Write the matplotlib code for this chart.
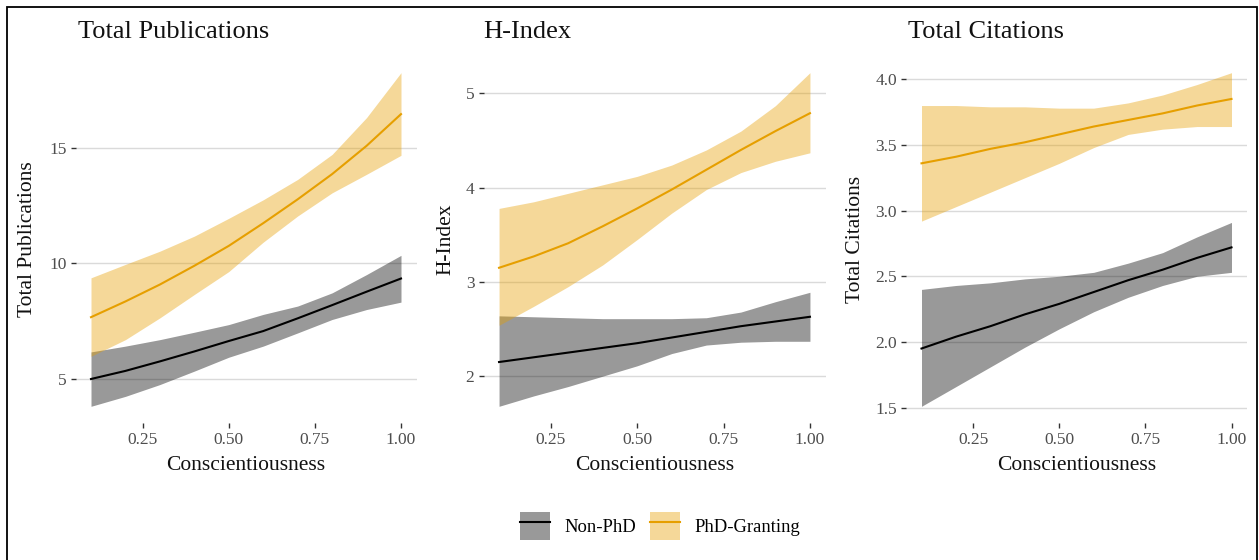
import matplotlib
matplotlib.use("Agg")
import matplotlib.pyplot as plt
from matplotlib.patches import Patch, Rectangle
from matplotlib.lines import Line2D
from matplotlib.ticker import FixedLocator, FormatStrFormatter

plt.rcParams['font.family'] = ['Liberation Serif', 'DejaVu Serif']

# ---------------- data ----------------
consc = [0.1, 0.2, 0.3, 0.4, 0.5, 0.6, 0.7, 0.8, 0.9, 1.0]

groups = ["Non-PhD", "PhD-Granting"]

# Total Publications
pub_non_fit = [5.01, 5.36, 5.77, 6.20, 6.65, 7.08, 7.63, 8.20, 8.78, 9.35]
pub_non_lo = [3.83, 4.26, 4.77, 5.35, 5.95, 6.43, 7.00, 7.58, 8.01, 8.33]
pub_non_hi = [6.18, 6.43, 6.71, 7.03, 7.36, 7.80, 8.16, 8.73, 9.52, 10.35]
pub_phd_fit = [7.68, 8.36, 9.09, 9.90, 10.76, 11.74, 12.77, 13.86, 15.08, 16.45]
pub_phd_lo = [5.99, 6.71, 7.65, 8.66, 9.65, 10.92, 12.05, 13.05, 13.85, 14.67]
pub_phd_hi = [9.38, 9.96, 10.53, 11.18, 11.95, 12.75, 13.63, 14.71, 16.30, 18.24]

# H-Index
h_non_fit = [2.15, 2.20, 2.25, 2.30, 2.35, 2.41, 2.47, 2.53, 2.58, 2.63]
h_non_lo = [1.68, 1.79, 1.89, 2.00, 2.11, 2.24, 2.33, 2.36, 2.37, 2.37]
h_non_hi = [2.64, 2.63, 2.62, 2.61, 2.61, 2.61, 2.62, 2.68, 2.79, 2.89]
h_phd_fit = [3.15, 3.27, 3.41, 3.59, 3.78, 3.98, 4.19, 4.40, 4.60, 4.79]
h_phd_lo = [2.54, 2.74, 2.95, 3.18, 3.45, 3.73, 3.98, 4.16, 4.28, 4.37]
h_phd_hi = [3.78, 3.85, 3.94, 4.03, 4.12, 4.24, 4.40, 4.60, 4.87, 5.22]

# Total Citations
cit_non_fit = [1.95, 2.04, 2.12, 2.21, 2.29, 2.38, 2.47, 2.55, 2.64, 2.72]
cit_non_lo = [1.51, 1.66, 1.81, 1.96, 2.10, 2.23, 2.34, 2.43, 2.50, 2.53]
cit_non_hi = [2.40, 2.43, 2.45, 2.48, 2.50, 2.53, 2.60, 2.68, 2.80, 2.91]
cit_phd_fit = [3.36, 3.41, 3.47, 3.52, 3.58, 3.64, 3.69, 3.74, 3.80, 3.85]
cit_phd_lo = [2.92, 3.03, 3.14, 3.25, 3.36, 3.48, 3.58, 3.62, 3.64, 3.64]
cit_phd_hi = [3.80, 3.80, 3.79, 3.79, 3.78, 3.78, 3.82, 3.88, 3.96, 4.05]

x_ticks = [0.25, 0.50, 0.75, 1.00]
pub_yticks = [5, 10, 15]
h_yticks = [2, 3, 4, 5]
cit_yticks = [1.5, 2.0, 2.5, 3.0, 3.5, 4.0]

titles = ["Total Publications", "H-Index", "Total Citations"]
x_label = "Conscientiousness"

# ---------------- styling ----------------
W, H = 1259, 560
colors = {"Non-PhD": "#000000", "PhD-Granting": "#E69F00"}
ALPHA = 0.4

fig = plt.figure(figsize=(W / 100, H / 100), dpi=100)


def px_axes(left, top, right, bottom):
    return fig.add_axes([left / W, (H - bottom) / H, (right - left) / W, (bottom - top) / H])


panels = [
    dict(title=titles[0], yticks=pub_yticks, fmt="%d",
         series=[(pub_non_fit, pub_non_lo, pub_non_hi), (pub_phd_fit, pub_phd_lo, pub_phd_hi)],
         box=(75.5, 56, 416.5, 423), title_x=78, ylab_x=28),
    dict(title=titles[1], yticks=h_yticks, fmt="%d",
         series=[(h_non_fit, h_non_lo, h_non_hi), (h_phd_fit, h_phd_lo, h_phd_hi)],
         box=(483.5, 56, 825.5, 423), title_x=483, ylab_x=446),
    dict(title=titles[2], yticks=cit_yticks, fmt="%.1f",
         series=[(cit_non_fit, cit_non_lo, cit_non_hi), (cit_phd_fit, cit_phd_lo, cit_phd_hi)],
         box=(906, 56, 1247, 423), title_x=908, ylab_x=855),
]

for p in panels:
    l, t, r, b = p["box"]
    ax = px_axes(l, t, r, b)
    lows, highs = [], []
    for g, (fit, lo, hi) in zip(groups, p["series"]):
        ax.fill_between(consc, lo, hi, color=colors[g], alpha=ALPHA, linewidth=0, zorder=2)
        lows += lo
        highs += hi
    for g, (fit, lo, hi) in zip(groups, p["series"]):
        ax.plot(consc, fit, color=colors[g], linewidth=1.5, zorder=3,
                solid_joinstyle="round")
    xmin, xmax = min(consc), max(consc)
    xr = xmax - xmin
    ax.set_xlim(xmin - 0.05 * xr, xmax + 0.05 * xr)
    ymin, ymax = min(lows), max(highs)
    yr = ymax - ymin
    ax.set_ylim(ymin - 0.05 * yr, ymax + 0.05 * yr)
    ax.xaxis.set_major_locator(FixedLocator(x_ticks))
    ax.xaxis.set_major_formatter(FormatStrFormatter("%.2f"))
    ax.yaxis.set_major_locator(FixedLocator(p["yticks"]))
    ax.yaxis.set_major_formatter(FormatStrFormatter(p["fmt"]))
    for s in ax.spines.values():
        s.set_visible(False)
    ax.grid(axis="y", color="#DADADA", linewidth=1.0, zorder=0)
    ax.set_axisbelow(True)
    ax.tick_params(axis="both", length=3.5, width=1.0, color="#333333",
                   labelcolor="#4D4D4D", labelsize=12.5, pad=3)
    ax.set_facecolor("none")
    # titles and axis labels
    fig.text(p["title_x"] / W, (H - 38) / H, p["title"], fontsize=19, ha="left",
             va="baseline", color="#111111")
    fig.text((l + r) / 2 / W, (H - 470) / H, x_label, fontsize=15.5, ha="center",
             va="baseline", color="#111111")
    fig.text(p["ylab_x"] / W, (H - (t + b) / 2) / H, p["title"], fontsize=15.5,
             ha="center", va="center", rotation=90, color="#111111")

# legend
handles = [
    (Patch(facecolor=colors[g], alpha=ALPHA, edgecolor="none"),
     Line2D([0], [0], color=colors[g], linewidth=1.5))
    for g in groups
]
fig.legend(handles, groups, loc="center", bbox_to_anchor=(660 / W, (H - 526) / H),
           ncol=2, frameon=False, fontsize=13.4, handlelength=1.62, handleheight=2.0,
           handletextpad=0.75, columnspacing=0.75, borderpad=0, borderaxespad=0)

# outer frame
fig.patches.append(Rectangle((7 / W, -0.1), (1257 - 7) / W, (H - 7) / H + 0.1,
                             transform=fig.transFigure, fill=False, edgecolor="black",
                             linewidth=1.3, clip_on=False))

fig.savefig("out.png", dpi=100)
